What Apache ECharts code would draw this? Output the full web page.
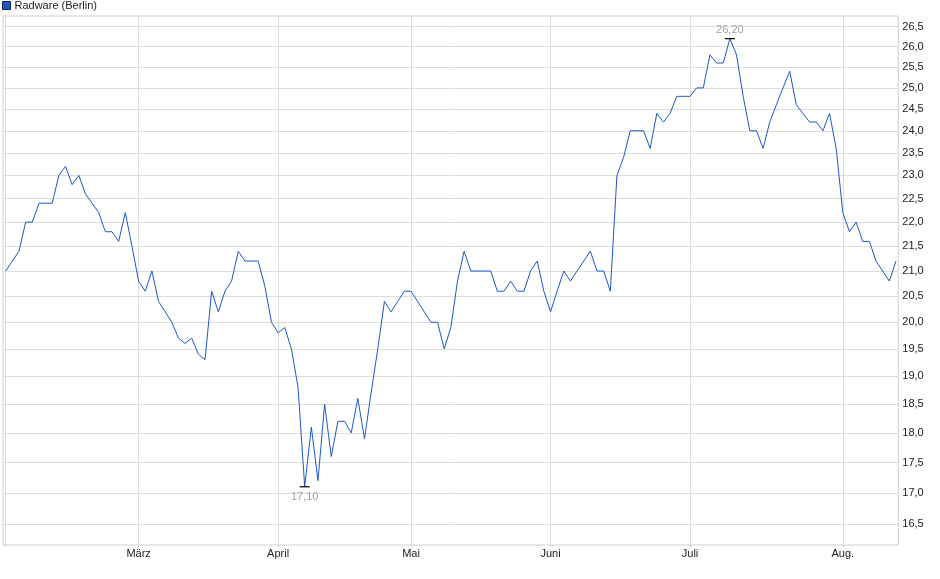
<!DOCTYPE html>
<html>
<head>
<meta charset="utf-8">
<script src="https://cdn.jsdelivr.net/npm/echarts@6/dist/echarts.min.js"></script>
<style>
html,body{margin:0;padding:0;background:#fff;}
#chart{width:940px;height:579px;}
</style>
</head>
<body>
<div id="chart"></div>
<script>
// Daily closing prices (trading days)
const prices = [
  21.0, 21.2, 21.4, 22.0, 22.0, 22.4, 22.4, 22.4, 23.0, 23.2,
  22.8, 23.0, 22.6, 22.4, 22.2, 21.8, 21.8, 21.6, 22.2, 21.5,
  20.8, 20.6, 21.0, 20.4, 20.2, 20.0, 19.7, 19.6, 19.7, 19.4,
  19.3, 20.6, 20.2, 20.6, 20.8, 21.4, 21.2, 21.2, 21.2, 20.7,
  20.0, 19.8, 19.9, 19.5, 18.8, 17.1, 18.1, 17.2, 18.5, 17.6,
  18.2, 18.2, 18.0, 18.6, 17.9, 18.7, 19.5, 20.4, 20.2, 20.4,
  20.6, 20.6, 20.4, 20.2, 20.0, 20.0, 19.5, 19.9, 20.8, 21.4,
  21.0, 21.0, 21.0, 21.0, 20.6, 20.6, 20.8, 20.6, 20.6, 21.0,
  21.2, 20.6, 20.2, 20.6, 21.0, 20.8, 21.0, 21.2, 21.4, 21.0,
  21.0, 20.6, 23.0, 23.4, 24.0, 24.0, 24.0, 23.6, 24.4, 24.2,
  24.4, 24.8, 24.8, 24.8, 25.0, 25.0, 25.8, 25.6, 25.6, 26.2,
  25.8, 24.8, 24.0, 24.0, 23.6, 24.2, 24.6, 25.0, 25.4, 24.6,
  24.4, 24.2, 24.2, 24.0, 24.4, 23.6, 22.2, 21.8, 22.0, 21.6,
  21.6, 21.2, 21.0, 20.8, 21.2
];
// Index of first trading day of each month (Feb, März, April, Mai, Juni, Juli, Aug.)
const monthStarts = [0, 20, 41, 61, 82, 103, 126];
const monthLabels = ['Feb.', 'März', 'April', 'Mai', 'Juni', 'Juli', 'Aug.'];
// Price tick labels (log-scaled axis)
const priceTicks = [16.5, 17.0, 17.5, 18.0, 18.5, 19.0, 19.5, 20.0, 20.5, 21.0,
  21.5, 22.0, 22.5, 23.0, 23.5, 24.0, 24.5, 25.0, 25.5, 26.0, 26.5];
const seriesName = 'Radware (Berlin)';

const FONT = '"Liberation Sans", Arial, sans-serif';
const lineData = prices.map((v, i) => [i, Math.log(v)]);
const fmtComma = (v, d) => v.toFixed(d).replace('.', ',');

const chart = echarts.init(document.getElementById('chart'), null, {renderer: 'canvas'});
chart.setOption({
  animation: false,
  backgroundColor: '#fff',
  textStyle: {fontFamily: FONT},
  legend: {
    left: 2, top: 0, padding: 0,
    itemWidth: 8, itemHeight: 8, itemGap: 10,
    icon: 'rect',
    data: [{name: seriesName, itemStyle: {color: '#1f57b8', borderColor: '#0c2356', borderWidth: 1}}],
    textStyle: {fontSize: 11, color: '#222', fontFamily: FONT, padding: [1, 0, 0, -1]}
  },
  grid: {
    left: 3, right: 41.7, top: 16, bottom: 34,
    show: true, borderColor: '#cfcfcf', borderWidth: 1,
    containLabel: false
  },
  xAxis: {
    type: 'value',
    min: -0.41, max: 134.35,
    axisLine: {show: false},
    axisTick: {show: true, length: 2, lineStyle: {color: '#cfcfcf'}, customValues: monthStarts},
    splitLine: {show: true, lineStyle: {color: '#dcdcdc', width: 1}},
    axisLabel: {
      customValues: monthStarts.slice(1),
      formatter: v => monthLabels[monthStarts.indexOf(Math.round(v))] || '',
      fontSize: 11, color: '#222', margin: 3, fontFamily: FONT
    }
  },
  yAxis: {
    type: 'value',
    position: 'right',
    min: 2.78365, max: 3.28733,
    axisLine: {show: false},
    axisTick: {show: false, customValues: priceTicks.map(Math.log)},
    splitLine: {show: true, lineStyle: {color: '#dcdcdc', width: 1}},
    axisLabel: {
      customValues: priceTicks.map(Math.log),
      formatter: v => fmtComma(Math.exp(v), 1),
      fontSize: 11, color: '#222', margin: 4, fontFamily: FONT
    }
  },
  series: [{
    name: seriesName,
    type: 'line',
    data: lineData,
    showSymbol: false,
    symbol: 'none',
    lineStyle: {color: '#1d58c6', width: 1},
    itemStyle: {color: '#1f57b8'},
    markPoint: {
      symbol: 'rect',
      symbolSize: [10, 1.2],
      itemStyle: {color: '#000'},
      label: {
        fontSize: 11, color: '#a0a0a0', fontFamily: FONT,
        formatter: p => fmtComma(Math.exp(p.value), 2)
      },
      data: [
        {type: 'max', label: {position: 'top', distance: 3}},
        {type: 'min', label: {position: 'bottom', distance: 4}}
      ]
    }
  }]
});
</script>
</body>
</html>
